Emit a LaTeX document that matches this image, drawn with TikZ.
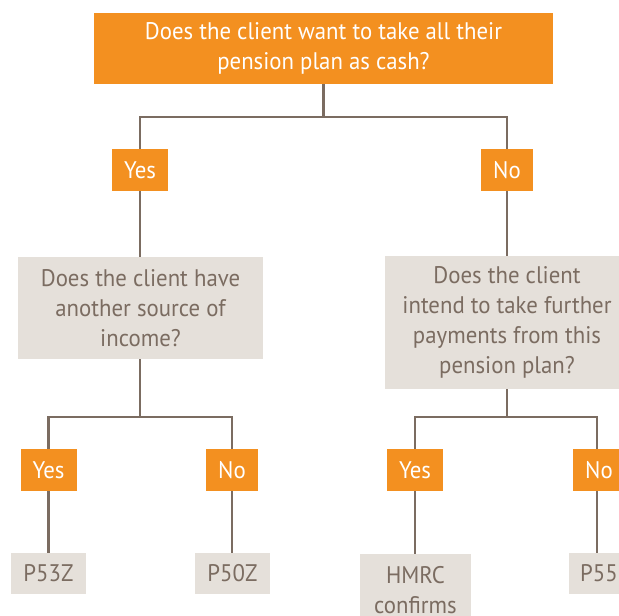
\documentclass[tikz,border=0pt]{standalone}
\usepackage{fontspec}
\setmainfont{PT Sans}[FakeStretch=0.95]
\definecolor{orng}{HTML}{F39020}
\definecolor{grayfill}{HTML}{E5E0DA}
\definecolor{brn}{HTML}{7B6C61}
\begin{document}
\begin{tikzpicture}[x=1pt,y=-1pt,
  conn/.style={draw=brn, line width=2.5pt},
  txt/.style={inner sep=0pt, align=center, font=\fontsize{24}{30}\selectfont},
  obox/.style={txt, fill=orng, text=white},
  gbox/.style={txt, fill=grayfill, text=brn},
  ans/.style={obox, minimum height=42pt}]
\useasboundingbox (0,0) rectangle (619,616);
% junctions
\coordinate (j1) at (323.5,117);
\coordinate (j2) at (140,417);
\coordinate (j3) at (507,417);
% connectors (drawn first, nodes cover them)
\draw[conn] (323.5,84) -- (j1);
\draw[conn] (140,170) |- (j1) -| (507,170);
\draw[conn] (140,170) -- (140,308);
\draw[conn] (507,170) -- (507,322);
\draw[conn] (140,308) -- (j2);
\draw[conn] (507,322) -- (j3);
\draw[conn] (48.5,470) |- (j2) -| (232,470);
\draw[conn] (415,470) |- (j3) -| (597,470);
\draw[conn] (48.5,470) -- (48.5,573);
\draw[conn] (232,470) -- (232,573);
\draw[conn] (415,470) -- (415,580);
\draw[conn] (597,470) -- (597,573);
% nodes
\node[obox, minimum width=459pt, minimum height=71pt] (q1) at (323.5,48.5)
  {Does the client want to take all their\\pension plan as cash?};
\node[ans, minimum width=56pt] (y1) at (140,170) {Yes};
\node[ans, minimum width=52pt] (n1) at (507,170) {No};
\node[gbox, minimum width=245pt, minimum height=102pt] (q2) at (140.5,308)
  {Does the client have\\another source of\\income?};
\node[gbox, minimum width=244pt, minimum height=133pt] (q3) at (507,322.5)
  {Does the client\\intend to take further\\payments from this\\pension plan?};
\node[ans, minimum width=56pt] (y2) at (48.5,470) {Yes};
\node[ans, minimum width=52pt] (n2) at (232,470) {No};
\node[ans, minimum width=56pt] (y3) at (415,470) {Yes};
\node[ans, minimum width=52pt] (n3) at (599,470) {No};
\node[gbox, minimum width=75pt, minimum height=41pt] (p1) at (48.5,573.5) {P53Z};
\node[gbox, minimum width=75pt, minimum height=41pt] (p2) at (232.5,573.5) {P50Z};
\node[gbox, minimum width=111pt, inner ysep=12pt, anchor=north] (p3) at (415.5,554) {HMRC\\confirms};
\node[gbox, minimum width=60pt, minimum height=41pt] (p4) at (599,573.5) {P55};
\end{tikzpicture}
\end{document}
